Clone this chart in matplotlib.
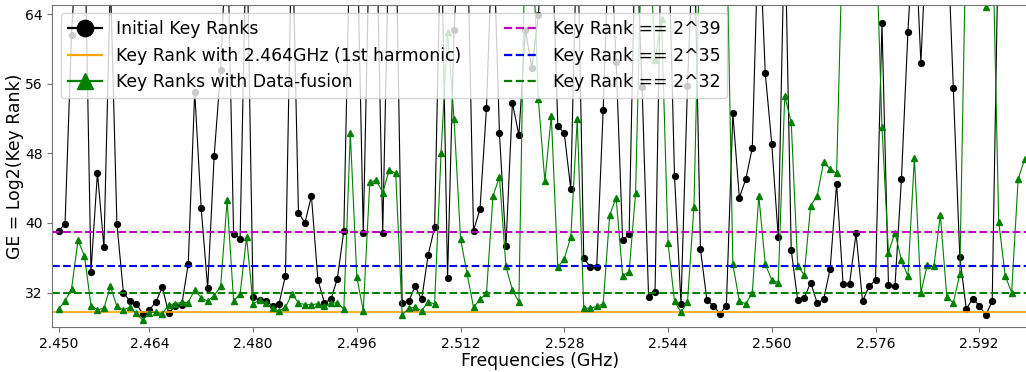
import numpy as np
import matplotlib
matplotlib.use("Agg")
import matplotlib.pyplot as plt

# Frequencies (GHz): 2.450 .. 2.599, step 1 MHz
freqs = np.round(np.arange(2450, 2600) / 1000.0, 3)

OFF = 75.0  # values above the visible range

# Initial key ranks (log2)
initial_ranks = [
    39.1, 39.9, 61.6, OFF, OFF, 34.4, 45.8, 37.2, 68.0, 39.9,
    32.0, 31.0, 30.7, 29.55, 30.0, 30.9, 32.6, 29.6, 30.5, 30.6,
    35.25, 55.1, 41.7, 32.5, 47.7, 57.6, OFF, 38.7, 38.2, OFF,
    31.5, 31.1, 31.0, 30.5, 30.7, 33.95, OFF, 41.2, 40.0, 43.1,
    33.45, 30.85, 31.2, 33.6, 39.1, OFF, OFF, 38.8, OFF, OFF,
    38.9, OFF, OFF, 30.8, 31.0, 32.7, 31.2, 36.3, 39.5, OFF,
    33.7, 62.2, OFF, OFF, 39.1, 41.6, 53.2, OFF, 50.3, 37.3,
    53.8, 50.1, 62.2, 57.8, 63.9, OFF, OFF, 51.2, 50.3, 43.9,
    OFF, 36.0, 34.9, 34.9, 53.0, OFF, 58.5, 38.0, 38.7, OFF,
    55.65, 31.5, 32.1, OFF, OFF, 45.4, 30.7, 55.7, OFF, 37.0,
    31.1, 30.5, 29.55, 30.5, 52.6, 42.9, 45.05, 48.65, OFF, 57.2,
    49.1, 38.35, OFF, 36.9, 31.1, 31.35, 33.15, 30.8, 31.2, 34.7,
    44.5, 33.0, 33.0, 38.8, 31.0, 32.7, 33.45, 63.0, 32.9, 32.7,
    45.05, 62.0, OFF, 58.4, OFF, OFF, OFF, OFF, 55.5, 36.1,
    30.1, 31.3, 30.5, 29.4, 31.0, OFF, OFF, OFF, OFF, OFF,
]

# Key ranks after data fusion (log2)
fusion_ranks = [
    30.1, 31.0, 32.4, 38.0, 36.2, 30.5, 30.0, 30.2, 32.7, 30.4,
    30.0, 30.3, 29.6, 28.8, 29.7, 29.74, 29.55, 30.6, 30.7, 30.9,
    30.85, 32.3, 31.4, 31.0, 31.65, 32.7, 42.6, 31.0, 31.85, 38.35,
    30.7, 31.1, 30.8, 30.2, 29.85, 30.3, 31.85, 30.8, 30.6, 30.6,
    30.7, 30.4, 30.8, 30.8, 30.1, 50.3, 33.8, 29.9, 44.7, 44.9,
    43.5, 46.1, 45.7, 29.4, 30.2, 30.3, 29.9, 30.9, 30.7, 48.1,
    62.0, 51.9, 38.2, 34.2, 30.3, 31.2, 31.9, 43.1, 45.3, 35.0,
    32.3, 30.9, OFF, OFF, 54.2, 44.8, 52.3, 34.9, 35.9, 38.35,
    51.9, 30.2, 30.2, 30.4, 30.7, 40.9, 42.9, 33.95, 34.4, 43.5,
    OFF, OFF, 58.7, 63.5, 37.7, 31.0, 29.75, 30.9, 41.85, OFF,
    OFF, OFF, OFF, OFF, 35.25, 31.0, 30.7, 32.0, 43.1, 35.25,
    33.45, 33.15, 54.6, 51.6, 35.1, 34.0, 42.0, 43.1, 47.0, 46.2,
    45.7, OFF, OFF, OFF, OFF, OFF, OFF, 51.0, 36.6, 38.9,
    35.7, 33.9, 47.5, 32.0, 35.2, 35.0, 40.9, 31.5, 30.8, 34.1,
    OFF, OFF, OFF, 64.8, OFF, 40.15, 33.95, 32.0, 45.05, 47.3,
]

harmonic_rank = 29.75   # key rank at 2.464 GHz (1st harmonic)
thresholds = [39, 35, 32]
threshold_colors = ["m", "b", "g"]

xticks = [2.450, 2.464, 2.480, 2.496, 2.512, 2.528, 2.544, 2.560, 2.576, 2.592]

fig = plt.figure(figsize=(10.26, 3.72), dpi=100)
ax = fig.add_axes([0.051, 0.1202, 0.950, 0.8672])

ax.plot(freqs, initial_ranks, color="black", marker="o", markersize=4.2,
        linewidth=0.8, label="Initial Key Ranks")
ax.axhline(harmonic_rank, color="orange", linewidth=1.2,
           label="Key Rank with 2.464GHz (1st harmonic)")
ax.plot(freqs, fusion_ranks, color="green", marker="^", markersize=4.2,
        linewidth=0.8, label="Key Ranks with Data-fusion")
for t, c in zip(thresholds, threshold_colors):
    ax.axhline(t, color=c, linestyle="--", linewidth=1.5,
               label="Key Rank == 2^%d" % t)

ax.set_xlim(2.44904, 2.59937)
ax.set_ylim(28.0, 65.1)
ax.set_yticks([32, 40, 48, 56, 64])
ax.set_xticks(xticks)
ax.set_xticklabels(["%.3f" % v for v in xticks])
ax.tick_params(labelsize=10, color="0.45")
for sp in ax.spines.values():
    sp.set_color("0.45")
ax.set_xlabel("Frequencies (GHz)", fontsize=12.4, labelpad=1)
ax.set_ylabel("GE = Log2(Key Rank)", fontsize=12.4, labelpad=0.5)

leg = ax.legend(loc="upper left", ncol=2, fontsize=12.4, markerscale=2.8,
                columnspacing=2.5)
for h in leg.get_lines():
    h.set_linewidth(1.6)

fig.savefig("out.png", dpi=100)
